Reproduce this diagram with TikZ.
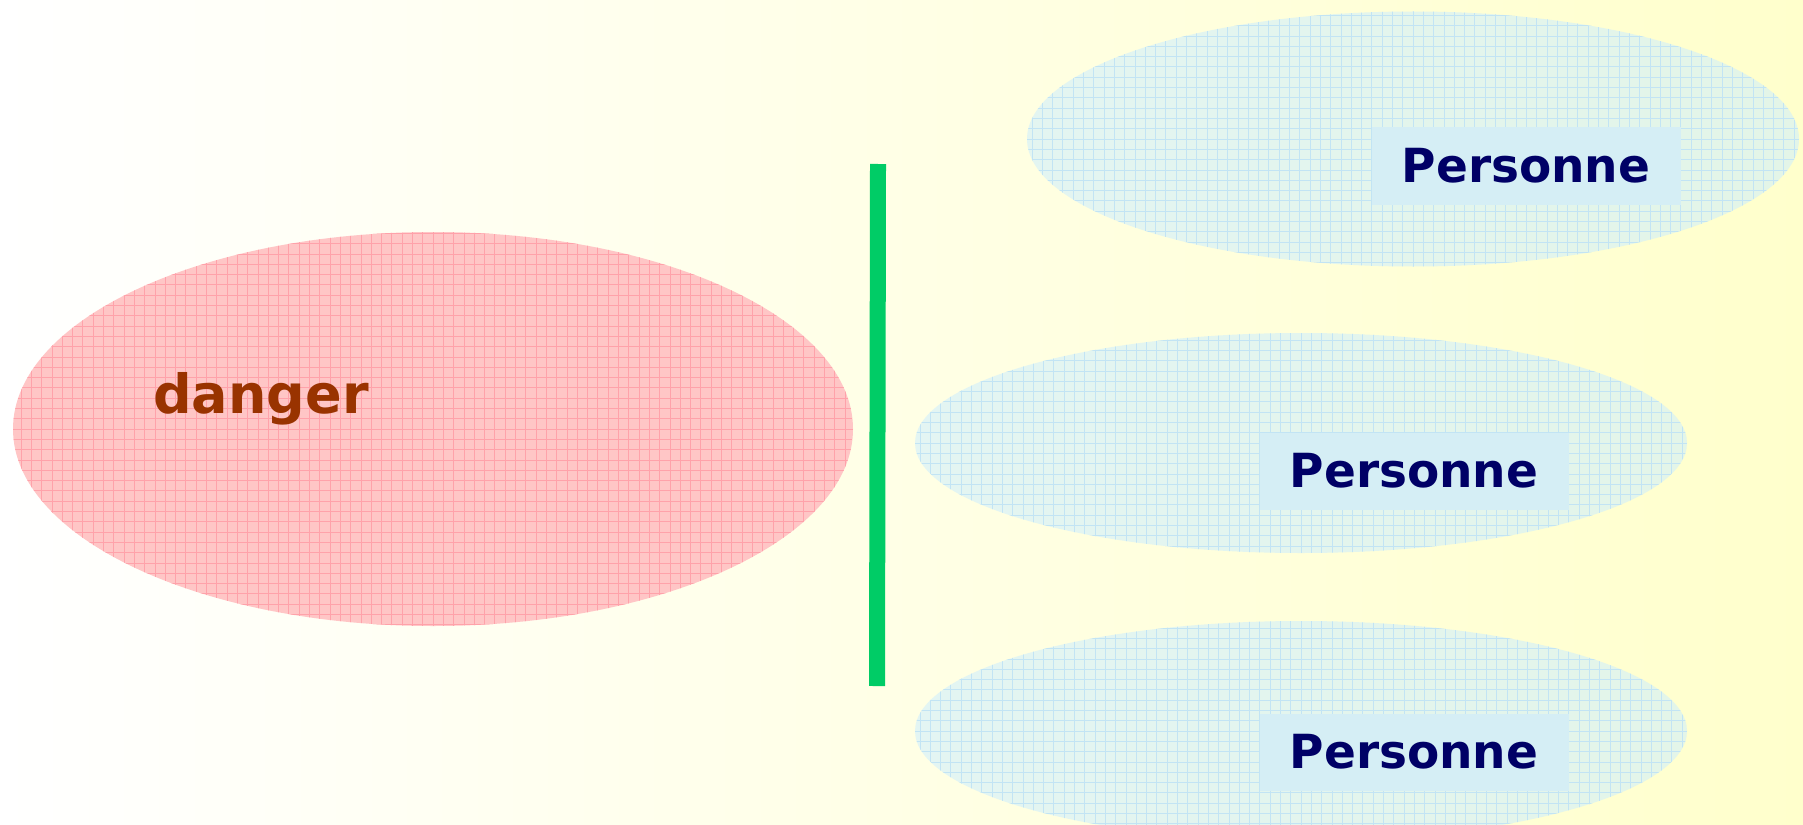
\documentclass[tikz,border=0pt]{standalone}
\usepackage{fontspec}
\setmainfont{DejaVu Sans}
\usetikzlibrary{shapes.geometric}
\definecolor{bgY}{HTML}{FFFFCC}
\definecolor{dangerC}{HTML}{FFC6C6}
\definecolor{dangerG}{HTML}{FFA2AA}
\definecolor{dangerT}{HTML}{993300}
\definecolor{persC}{HTML}{CCEEFF}
\definecolor{persG}{HTML}{C2E4F4}
\definecolor{labC}{HTML}{D5EEF5}
\definecolor{persT}{HTML}{000066}
\definecolor{barC}{HTML}{00CC66}
\tikzset{
  zone/.style={ellipse, inner sep=0pt,
    path picture={\draw[#1, line width=0.8pt, step=10.3pt]
      (path picture bounding box.south west) grid (path picture bounding box.north east);}},
  dangerzone/.style={zone=dangerG, fill=dangerC, minimum width=840pt, minimum height=394pt},
  perszone/.style={zone=persG, fill=persC, fill opacity=0.55, minimum width=772pt, minimum height=220pt},
  perslbl/.style={rectangle, fill=labC, minimum width=309pt, minimum height=77pt,
    text=persT, font=\fontsize{47}{50}\selectfont\bfseries},
  dangerlbl/.style={text=dangerT, font=\fontsize{54}{58}\selectfont\bfseries, anchor=base},
  barrier/.style={draw=barC, line width=16pt},
}
\begin{document}
\begin{tikzpicture}[x=1pt, y=-1pt]
\useasboundingbox (0,0) rectangle (1803,824);
\clip (0,0) rectangle (1803,824);
\shade[left color=white, right color=bgY] (0,0) rectangle (1803,824);
% danger zone
\node[dangerzone] (danger) at (433,429) {};
\node[dangerlbl] (dlab) at (261,413) {danger};
% barrier
\coordinate (barTop) at (878,164);
\coordinate (barBot) at (877,686);
\draw[barrier] (barTop) -- (barBot);
% persons
\node[perszone, minimum height=255pt] (pers1) at (1413,139) {};
\node[perszone] (pers2) at (1301,443) {};
\node[perszone] (pers3) at (1301,731) {};
\node[perslbl] (lab1) at (1526,166) {Personne};
\node[perslbl] (lab2) at (1414,471) {Personne};
\node[perslbl] (lab3) at (1414,752) {Personne};
\end{tikzpicture}
\end{document}
